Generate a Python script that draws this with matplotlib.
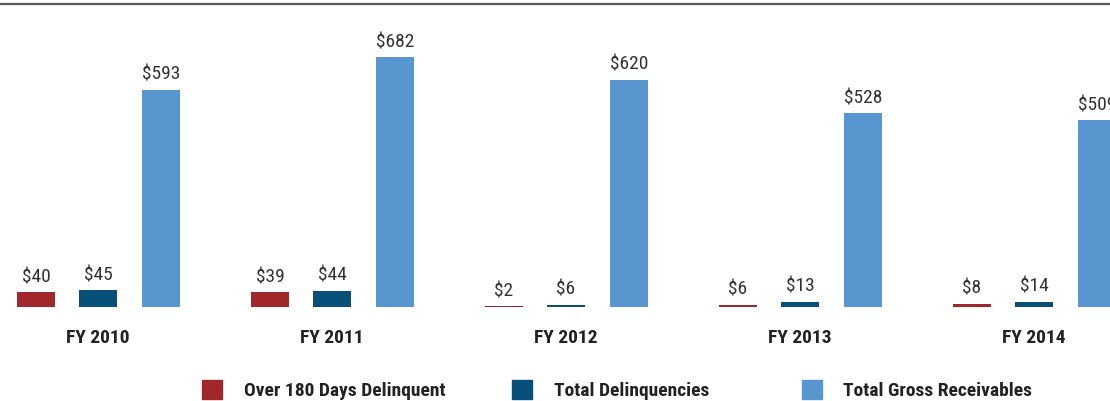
import matplotlib
matplotlib.use("Agg")
import matplotlib.pyplot as plt
from matplotlib import font_manager
from matplotlib.lines import Line2D
from matplotlib.patches import Rectangle
import numpy as np

categories = ["FY 2010", "FY 2011", "FY 2012", "FY 2013", "FY 2014"]
series_names = ["Over 180 Days Delinquent", "Total Delinquencies", "Total Gross Receivables"]
over_180 = [40, 39, 2, 6, 8]
total_delinq = [45, 44, 6, 13, 14]
gross_recv = [593, 682, 620, 528, 509]
colors = ["#A0282A", "#08507A", "#5896D0"]

available = {f.name for f in font_manager.fontManager.ttflist}
family = "DejaVu Sans"
for cand in ["Liberation Sans Narrow", "Roboto Condensed", "Open Sans Condensed", "Noto Sans Condensed", "Liberation Sans"]:
    if cand in available:
        family = cand
        break
plt.rcParams["font.family"] = [family, "DejaVu Sans"]

W, H = 1110, 402
fig = plt.figure(figsize=(W / 100, H / 100), dpi=100)
base_px = 307.7
top_px = 5
ax = fig.add_axes([0, (H - base_px) / H, 1, (base_px - top_px) / H])
ax.set_xlim(-98 / 234, (W - 98) / 234)
ax.set_ylim(0, (base_px - top_px) / 0.366)
ax.axis("off")

x = np.arange(len(categories))
offsets = [-62 / 234, 0, 63 / 234]
width = 38 / 234
for vals, off, col in zip([over_180, total_delinq, gross_recv], offsets, colors):
    bars = ax.bar(x + off, vals, width=width, color=col, clip_on=False)
    for b, v in zip(bars, vals):
        ax.annotate(f"${v}", (b.get_x() + b.get_width() / 2, v), xytext=(0, 5),
                    textcoords="offset points", ha="center", va="bottom",
                    fontsize=14, color="#333333", annotation_clip=False)

for xi, c in zip(x, categories):
    ax.annotate(c, (xi, 0), xytext=(0, -15), textcoords="offset points",
                ha="center", va="top", fontsize=14, fontweight="bold",
                color="#222222", annotation_clip=False)

# top rule
fig.add_artist(Line2D([0, 1], [(H - 5) / H, (H - 5) / H], color="#5a5a5a", lw=1.6))

# legend
sq_x = [202, 512, 802]
txt_x = [244, 554, 843]
for sx, tx, col, name in zip(sq_x, txt_x, colors, series_names):
    fig.add_artist(Rectangle((sx / W, (H - 400) / H), 20 / W, 19 / H, color=col,
                             transform=fig.transFigure))
    fig.text(tx / W, (H - 391.5) / H, name, ha="left", va="center", fontsize=14,
             fontweight="bold", color="#222222")

fig.savefig("out.png", dpi=100)
